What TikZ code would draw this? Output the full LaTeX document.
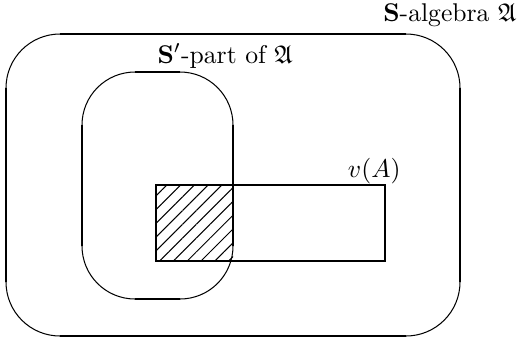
\documentclass[tikz,border=0pt]{standalone}
\usepackage{amsmath,amssymb}
\usepackage{tikz}
\usetikzlibrary{patterns.meta}
\tikzset{
  side/.style={line width=0.9pt},
  cornerarc/.style={line width=0.4pt},
  lab/.style={inner sep=0pt, font=\normalsize},
  hatch/.style={pattern={Lines[angle=45,distance=3.8pt,line width=0.4pt]}},
}

\begin{document}
\begin{tikzpicture}[x=0.39pt,y=-0.39pt]
  \useasboundingbox (0,0) rectangle (521,338);
  % hatched part
  \fill[hatch] (156,185) rectangle (233,261);
  % outer frame
  \draw[side] (6,88)--(6,282);   \draw[side] (460,88)--(460,282);
  \draw[side] (60,34)--(406,34); \draw[side] (60,336)--(406,336);
  \draw[cornerarc] (6,88) arc[start angle=180,end angle=270,radius=54];
  \draw[cornerarc] (406,34) arc[start angle=270,end angle=360,radius=54];
  \draw[cornerarc] (460,282) arc[start angle=0,end angle=90,radius=54];
  \draw[cornerarc] (60,336) arc[start angle=90,end angle=180,radius=54];
  \node[lab,anchor=base east] (alg) at (517,21) {$\mathbf{S}$-algebra $\mathfrak{A}$};
  % inner frame
  \draw[side] (82,125)--(82,246);  \draw[side] (233,125)--(233,246);
  \draw[side] (135,72)--(180,72);  \draw[side] (135,299)--(180,299);
  \draw[cornerarc] (82,125) arc[start angle=180,end angle=270,radius=53];
  \draw[cornerarc] (180,72) arc[start angle=270,end angle=360,radius=53];
  \draw[cornerarc] (233,246) arc[start angle=0,end angle=90,radius=53];
  \draw[cornerarc] (135,299) arc[start angle=90,end angle=180,radius=53];
  \node[lab,anchor=base west] (part) at (157,63) {$\mathbf{S}'$-part of $\mathfrak{A}$};
  % v(A)
  \draw[side] (156,185) rectangle (385,261);
  \node[lab,anchor=base east] (vA) at (401,177) {$v(A)$};
\end{tikzpicture}
\end{document}
